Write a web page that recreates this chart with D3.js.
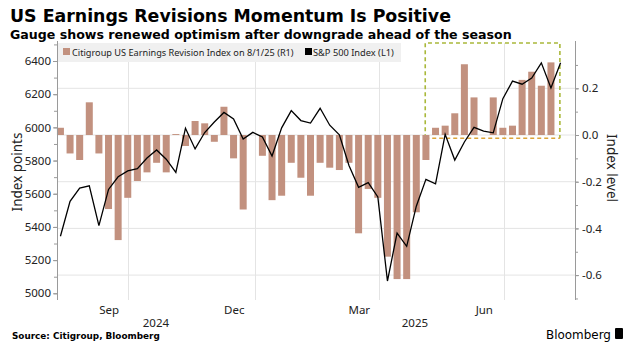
<!DOCTYPE html>
<html><head><meta charset="utf-8">
<script src="https://cdn.jsdelivr.net/npm/d3@7"></script>
<style>body{margin:0;background:#fff}svg{display:block}</style>
</head><body>
<svg id="c" width="643" height="358"></svg>
<script>
// ---------- data ----------
const weekDates = ["2024-08-09","2024-08-16","2024-08-23","2024-08-30","2024-09-06","2024-09-13","2024-09-20","2024-09-27",
"2024-10-04","2024-10-11","2024-10-18","2024-10-25","2024-11-01","2024-11-08","2024-11-15","2024-11-22","2024-11-29",
"2024-12-06","2024-12-13","2024-12-20","2024-12-27","2025-01-03","2025-01-10","2025-01-17","2025-01-24","2025-01-31",
"2025-02-07","2025-02-14","2025-02-21","2025-02-28","2025-03-07","2025-03-14","2025-03-21","2025-03-28","2025-04-04",
"2025-04-11","2025-04-18","2025-04-25","2025-05-02","2025-05-09","2025-05-16","2025-05-23","2025-05-30","2025-06-06",
"2025-06-13","2025-06-20","2025-06-27","2025-07-04","2025-07-11","2025-07-18","2025-07-25","2025-08-01","2025-08-08"];
const revisionIndex = [0.031,-0.079,-0.107,0.14,-0.079,-0.317,-0.45,-0.269,-0.197,-0.16,-0.119,-0.16,0.004,-0.047,0.06,0.05,-0.029,
0.121,-0.1,-0.319,0.0,-0.089,-0.279,-0.26,-0.119,-0.183,-0.26,-0.119,-0.14,-0.15,-0.119,-0.421,-0.231,-0.269,-0.521,
-0.617,-0.617,-0.331,-0.107,0.031,0.04,0.093,0.303,0.161,0.0,0.161,0.031,0.04,0.236,0.271,0.211,0.311];
const spxIndex = [5344,5554,5634,5648,5408,5626,5702,5738,5751,5815,5864,5808,5728,5995,5870,5969,6032,6090,6051,5930,5970,
5942,5827,5997,6101,6041,6026,6115,6013,5955,5770,5639,5667,5581,5074,5363,5283,5525,5687,5660,5958,5803,5912,6000,5977,
5967,6173,6279,6260,6297,6389,6238,6389];
const leftTicks = [5000,5200,5400,5600,5800,6000,6200,6400];
const rightTicks = [-0.6,-0.4,-0.2,0.0,0.2];
const monthLabels = ["Sep","Dec","Mar","Jun"];
const monthDates = ["2024-09-17","2024-12-17","2025-03-18","2025-06-17"];
const yearLabels = ["2024","2025"];
const quarterStarts = ["2024-10-01","2025-01-01","2025-04-01","2025-07-01"];
const highlightRange = ["2025-05-05","2025-08-11"];
const title = "US Earnings Revisions Momentum Is Positive";
const subtitle = "Gauge shows renewed optimism after downgrade ahead of the season";
const legendLabels = ["Citigroup US Earnings Revision Index on 8/1/25 (R1)","S&P 500 Index (L1)"];

// ---------- setup ----------
const parse = d3.timeParse("%Y-%m-%d");
const svg = d3.select("#c");
const plot = {l:57, r:575, t:43, b:300};

const x = d3.scaleTime().domain([parse("2024-08-10"), parse("2025-08-22")]).range([plot.l, plot.r]);
const yL = d3.scaleLinear().domain([4959.6, 6508.5]).range([plot.b, plot.t]);
const yR = d3.scaleLinear().domain([-0.7066, 0.394]).range([plot.b, plot.t]);
const xc = d => x(d3.timeHour.offset(d, 84)); // centre of the week

const dates = weekDates.map(parse);
const barData = revisionIndex.map((v,i)=>({d:dates[i], v}));
const lineData = spxIndex.map((v,i)=>({d:dates[i], v}));

const barColor = "#c2917f";
const gridColor = "#e4e4e4";
const axisColor = "#9a9a9a";
const textColor = "#222";

function fitText(sel, target){
  const w = sel.node().getComputedTextLength();
  const fs = parseFloat(sel.attr("font-size"));
  sel.attr("font-size", fs*target/w);
}
const t1 = svg.append("text").attr("x",10).attr("y",22).attr("font-family","DejaVu Sans").attr("font-weight","bold")
  .attr("font-size",19).attr("fill","#000").text(title);
fitText(t1, 441);
const t2 = svg.append("text").attr("x",10).attr("y",39).attr("font-family","DejaVu Sans").attr("font-weight","bold")
  .attr("font-size",13).attr("fill","#000").text(subtitle);
fitText(t2, 502);

// gridlines
const g = svg.append("g");
g.selectAll(".hg").data(rightTicks).join("line")
  .attr("x1",plot.l).attr("x2",plot.r).attr("y1",d=>yR(d)).attr("y2",d=>yR(d))
  .attr("stroke",gridColor).attr("stroke-width",1);
g.selectAll(".vg").data(quarterStarts.map(parse)).join("line")
  .attr("x1",d=>Math.round(x(d))+0.5).attr("x2",d=>Math.round(x(d))+0.5).attr("y1",plot.t).attr("y2",plot.b)
  .attr("stroke",gridColor).attr("stroke-width",1);

// legend background
const legend = svg.append("g");
legend.append("rect").attr("x",plot.l+1).attr("y",plot.t).attr("width",343).attr("height",19).attr("fill","#f0f0f0");

// highlight box
const hb = svg.append("g");
const bx0 = x(parse(highlightRange[0])), bx1 = x(parse(highlightRange[1]));
const by0 = plot.t, by1 = yR(-0.014);
hb.append("path").attr("d",`M${bx0},${by1}V${by0}H${bx1}V${by1}`).attr("fill","none")
  .attr("stroke","#a9b83a").attr("stroke-width",1.6).attr("stroke-dasharray","4,3");
hb.append("line").attr("x1",bx0).attr("x2",bx1).attr("y1",by1).attr("y2",by1)
  .attr("stroke","#dba43a").attr("stroke-width",1.6).attr("stroke-dasharray","4,3");

// bars
const bw = 7;
svg.append("g").selectAll("rect").data(barData).join("rect")
  .attr("x",d=>xc(d.d)-bw/2).attr("width",bw)
  .attr("y",d=>Math.min(yR(d.v),yR(0))).attr("height",d=>Math.abs(yR(d.v)-yR(0)))
  .attr("fill",barColor);

// line
svg.append("path").datum(lineData)
  .attr("d",d3.line().x(d=>xc(d.d)).y(d=>yL(d.v)))
  .attr("fill","none").attr("stroke","#000").attr("stroke-width",1.3).attr("stroke-linejoin","miter");

// axes
const fontTick = "Noto Sans";
const axL = d3.axisLeft(yL).tickValues(leftTicks).tickSize(4).tickPadding(2).tickFormat(d3.format("d"));
svg.append("g").attr("transform",`translate(${plot.l},0)`).call(axL);
const axLm = d3.axisLeft(yL).tickValues(d3.range(5000,6501,100)).tickSize(3).tickFormat("");
svg.append("g").attr("transform",`translate(${plot.l},0)`).call(axLm);
const axR = d3.axisRight(yR).tickValues(rightTicks).tickSize(4).tickPadding(3).tickFormat(d=>d3.format(".1f")(d).replace("−","-"));
svg.append("g").attr("transform",`translate(${plot.r},0)`).call(axR);
const axRm = d3.axisRight(yR).tickValues([-0.7,-0.6,-0.5,-0.4,-0.3,-0.2,-0.1,0,0.1,0.2,0.3]).tickSize(3).tickFormat("");
svg.append("g").attr("transform",`translate(${plot.r},0)`).call(axRm);
svg.selectAll(".domain").remove();
svg.selectAll(".tick line").attr("stroke",axisColor);
svg.selectAll(".tick text").attr("font-family",fontTick).attr("font-size",11.5).attr("fill",textColor);
svg.append("line").attr("x1",plot.l+0.5).attr("x2",plot.l+0.5).attr("y1",plot.t-2).attr("y2",plot.b).attr("stroke",axisColor);
svg.append("line").attr("x1",plot.r+0.5).attr("x2",plot.r+0.5).attr("y1",plot.t-2).attr("y2",plot.b).attr("stroke",axisColor);

// x labels
svg.append("g").selectAll("text").data(monthLabels).join("text")
  .attr("x",(d,i)=>x(parse(monthDates[i]))).attr("y",314).attr("text-anchor","middle")
  .attr("font-family",fontTick).attr("font-size",11.5).attr("fill",textColor).text(d=>d);
const yearSpans = [[x.domain()[0], parse("2025-01-01")],[parse("2025-01-01"), x.domain()[1]]];
svg.append("g").selectAll("text").data(yearLabels).join("text")
  .attr("x",(d,i)=>(x(yearSpans[i][0])+x(yearSpans[i][1]))/2).attr("y",327).attr("text-anchor","middle")
  .attr("font-family",fontTick).attr("font-size",11.5).attr("fill",textColor).text(d=>d);

// axis titles
svg.append("text").attr("transform","translate(22,172) rotate(-90)").attr("text-anchor","middle")
  .attr("font-family",fontTick).attr("font-size",13.5).attr("fill",textColor).text("Index points");
svg.append("text").attr("transform","translate(607,168) rotate(90)").attr("text-anchor","middle")
  .attr("font-family",fontTick).attr("font-size",13.5).attr("fill",textColor).text("Index level");

// legend items
legend.append("rect").attr("x",63).attr("y",48).attr("width",7).attr("height",7).attr("fill",barColor);
const l1 = legend.append("text").attr("x",72).attr("y",56).attr("font-family",fontTick).attr("font-size",11).attr("fill",textColor).text(legendLabels[0]);
fitText(l1, 222);
legend.append("rect").attr("x",305).attr("y",48).attr("width",7).attr("height",7).attr("fill","#000");
const l2 = legend.append("text").attr("x",313).attr("y",56).attr("font-family",fontTick).attr("font-size",11).attr("fill",textColor).text(legendLabels[1]);
fitText(l2, 81);

// footer
const src = svg.append("text").attr("x",12).attr("y",339).attr("font-family","DejaVu Sans").attr("font-weight","bold")
  .attr("font-size",9.5).attr("fill","#000").text("Source: Citigroup, Bloomberg");
fitText(src, 148);
const bb = svg.append("text").attr("x",546).attr("y",339).attr("font-family","DejaVu Sans").attr("font-weight","500")
  .attr("font-size",14).attr("fill","#000").text("Bloomberg");
fitText(bb, 65);
svg.append("rect").attr("x",615).attr("y",328).attr("width",8).attr("height",11).attr("rx",1).attr("fill","#000");
</script>
</body></html>
